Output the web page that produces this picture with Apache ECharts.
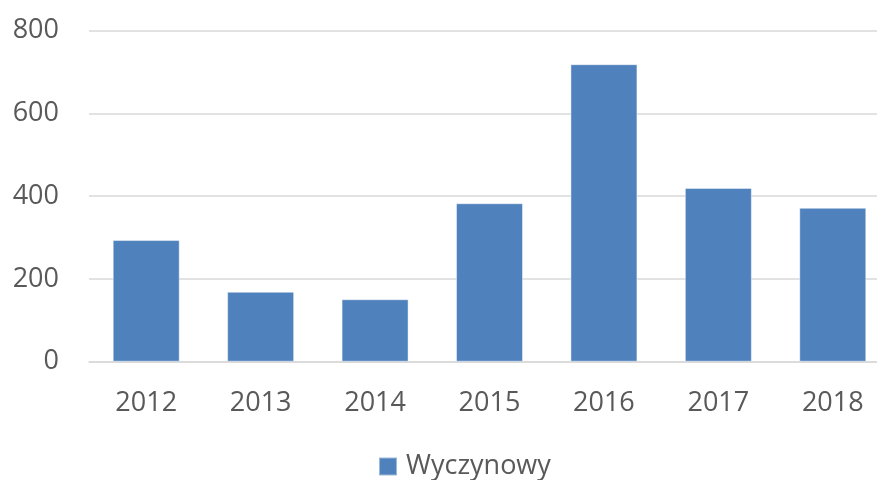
<!DOCTYPE html>
<html><head><meta charset="utf-8">
<script src="https://cdn.jsdelivr.net/npm/echarts@6/dist/echarts.min.js"></script>
<style>html,body{margin:0;padding:0;background:#fff;overflow:hidden;width:877px;height:480px}#c{width:890px;height:480px}</style>
</head><body><div id="c"></div>
<script>
const categories = ['2012','2013','2014','2015','2016','2017','2018'];
const seriesName = 'Wyczynowy';
const values = [294, 169, 151, 383, 719, 420, 372];
const yTicks = {min: 0, max: 800, interval: 200};

const chart = echarts.init(document.getElementById('c'), null, {renderer: 'canvas'});
const font = '"Open Sans", sans-serif';
chart.setOption({
  animation: false,
  grid: {left: 89, top: 30.7, right: 0, bottom: 118.3, containLabel: false},
  legend: {
    left: 373, top: 448,
    itemWidth: 18, itemHeight: 18,
    icon: 'rect',
    data: [seriesName],
    textStyle: {fontFamily: font, fontSize: 27, color: '#595959', padding: [0,0,0,4], lineHeight: 27}
  },
  xAxis: {
    type: 'category', data: categories,
    axisLine: {lineStyle: {color: '#d9d9d9', width: 1.5}},
    axisTick: {show: false},
    axisLabel: {fontFamily: font, fontSize: 27, color: '#595959', margin: 28, lineHeight: 27}
  },
  yAxis: {
    type: 'value', min: yTicks.min, max: yTicks.max, interval: yTicks.interval,
    axisLine: {show: false}, axisTick: {show: false},
    splitLine: {lineStyle: {color: '#d9d9d9', width: 1.5}},
    axisLabel: {fontFamily: font, fontSize: 27, color: '#595959', margin: 30}
  },
  series: [{
    name: seriesName, type: 'bar', data: values, barWidth: 67,
    itemStyle: {color: '#4f81bd', borderColor: 'rgba(255,255,255,0.45)', borderWidth: 1}
  }]
});
</script></body></html>
